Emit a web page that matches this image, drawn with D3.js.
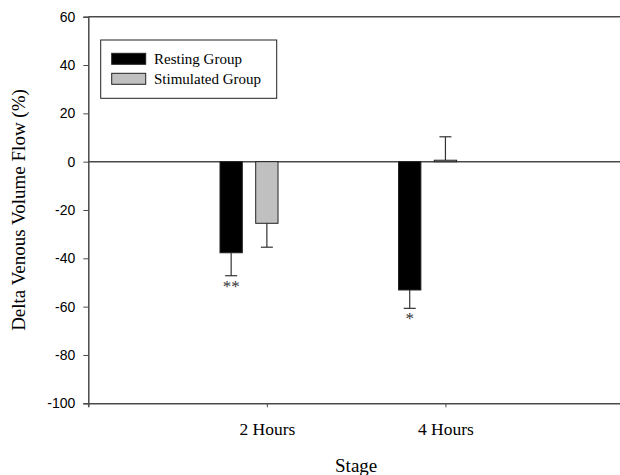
<!DOCTYPE html>
<html>
<head>
<meta charset="utf-8">
<script src="https://cdn.jsdelivr.net/npm/d3@7"></script>
<style>
  body { margin: 0; background: #fff; }
  svg { display: block; }
</style>
</head>
<body>
<svg id="chart" width="620" height="475"></svg>
<script>
// values
var categories = ["2 Hours", "4 Hours"];
var restingMean = [-37.7, -53.1];
var restingSE = [9.5, 7.6];
var stimulatedMean = [-25.5, 0.6];
var stimulatedSE = [9.9, 9.7];
var restingMarks = ["**", "*"];
var yTicks = [-100, -80, -60, -40, -20, 0, 20, 40, 60];

var series = [
    { name: "Resting Group", mean: restingMean, se: restingSE, marks: restingMarks, fill: "#000000", offset: -0.2 },
    { name: "Stimulated Group", mean: stimulatedMean, se: stimulatedSE, marks: ["", ""], fill: "#c0c0c0", offset: 0 }
];

var svg = d3.select("#chart");
var axisColor = "#4a4a4a";
var serif = "'Liberation Serif', 'Times New Roman', serif";

var x = d3.scaleLinear().domain([0, 3]).range([88.3, 624]);
var y = d3.scaleLinear().domain([-100, 60]).range([403.3, 16.7]);
var barW = x(0.125) - x(0);

// top frame line and zero line
svg.append("line")
    .attr("x1", x(0)).attr("x2", x(3))
    .attr("y1", y(60)).attr("y2", y(60))
    .attr("stroke", axisColor).attr("stroke-width", 1.5);

svg.append("line")
    .attr("x1", x(0)).attr("x2", x(3))
    .attr("y1", y(0)).attr("y2", y(0))
    .attr("stroke", axisColor).attr("stroke-width", 1.5);

// y axis
var gy = svg.append("g")
    .attr("transform", "translate(" + x(0) + ",0)")
    .call(d3.axisLeft(y).tickValues(yTicks).tickSize(5).tickPadding(8)
        .tickFormat(function(d) { return String(d); }));
gy.select(".domain").attr("stroke", axisColor).attr("stroke-width", 1.5);
gy.selectAll(".tick line").attr("stroke", axisColor);
gy.selectAll(".tick text")
    .attr("fill", "#000")
    .style("font-family", "'Liberation Sans', Arial, sans-serif")
    .style("font-size", "14px");

// x axis
var gx = svg.append("g")
    .attr("transform", "translate(0," + y(-100) + ")")
    .call(d3.axisBottom(x).tickValues([1, 2])
        .tickFormat(function(d) { return categories[d - 1]; })
        .tickSize(4).tickPadding(15));
gx.select(".domain").attr("stroke", axisColor).attr("stroke-width", 1.5);
gx.selectAll(".tick line").attr("stroke", axisColor);
gx.selectAll(".tick text")
    .attr("fill", "#000")
    .style("font-family", serif)
    .style("font-size", "17.5px");

// bars, error bars, significance marks
series.forEach(function(s) {
    var g = svg.append("g");
    categories.forEach(function(c, i) {
        var cx = x(i + 1 + s.offset);
        var v = s.mean[i];
        var tip = v < 0 ? v - s.se[i] : v + s.se[i];

        // error bar (one-sided, away from zero)
        g.append("line")
            .attr("x1", cx).attr("x2", cx)
            .attr("y1", y(v)).attr("y2", y(tip))
            .attr("stroke", "#333").attr("stroke-width", 1.2);
        g.append("line")
            .attr("x1", cx - 6).attr("x2", cx + 6)
            .attr("y1", y(tip)).attr("y2", y(tip))
            .attr("stroke", "#333").attr("stroke-width", 1.2);

        g.append("rect")
            .attr("x", cx - barW / 2)
            .attr("y", y(Math.max(0, v)))
            .attr("width", barW)
            .attr("height", Math.max(Math.abs(y(v) - y(0)), 1.5))
            .attr("fill", s.fill)
            .attr("stroke", "#222")
            .attr("stroke-width", 1);

        if (s.marks[i]) {
            g.append("text")
                .attr("x", cx)
                .attr("y", y(tip) + 16)
                .attr("text-anchor", "middle")
                .attr("fill", "#333")
                .style("font-family", serif)
                .style("font-size", "17px")
                .text(s.marks[i]);
        }
    });
});

// legend
var legend = svg.append("g");
legend.append("rect")
    .attr("x", 100.7).attr("y", 40)
    .attr("width", 176).attr("height", 58.3)
    .attr("fill", "#fff").attr("stroke", "#222").attr("stroke-width", 1);

series.forEach(function(s, i) {
    legend.append("rect")
        .attr("x", 111.7).attr("y", 53.3 + i * 20)
        .attr("width", 34).attr("height", 11)
        .attr("fill", s.fill).attr("stroke", "#222").attr("stroke-width", 1);
    legend.append("text")
        .attr("x", 154).attr("y", 64 + i * 20)
        .attr("fill", "#000")
        .style("font-family", serif)
        .style("font-size", "15px")
        .text(s.name);
});

// axis titles
svg.append("text")
    .attr("transform", "translate(25," + ((y(60) + y(-100)) / 2) + ") rotate(-90)")
    .attr("text-anchor", "middle")
    .attr("fill", "#000")
    .style("font-family", serif)
    .style("font-size", "19px")
    .text("Delta Venous Volume Flow (%)");

svg.append("text")
    .attr("x", (x(0) + x(3)) / 2)
    .attr("y", 472)
    .attr("text-anchor", "middle")
    .attr("fill", "#000")
    .style("font-family", serif)
    .style("font-size", "19px")
    .text("Stage");
</script>
</body>
</html>
